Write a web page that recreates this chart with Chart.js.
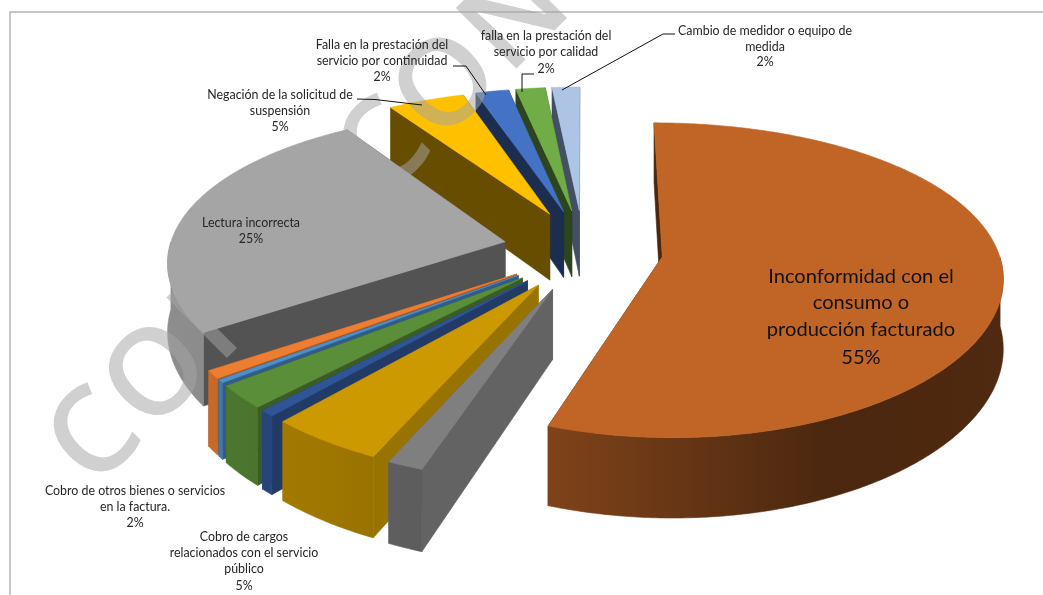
<!DOCTYPE html>
<html><head><meta charset="utf-8">
<style>html,body{margin:0;padding:0;background:#fff;overflow:hidden}canvas{display:block}</style>
<script src="https://cdn.jsdelivr.net/npm/chart.js@4"></script></head>
<body><canvas id="c" width="1043" height="595"></canvas>
<script>
const categories = [
  ['Inconformidad con el','consumo o','producción facturado'],
  [],
  ['Cobro de cargos','relacionados con el servicio','público'],
  [],
  [],
  [],
  ['Cobro de otros bienes o servicios','en la factura.'],
  ['Lectura incorrecta'],
  ['Negación de la solicitud de','suspensión'],
  ['Falla en la prestación del','servicio por continuidad'],
  ['falla en la prestación del','servicio por calidad'],
  ['Cambio de medidor o equipo de','medida']
];
const shares = [55.3, 1.5, 4.8, 0.6, 2.3, 0.3, 0.8, 25.3, 4.2, 1.8, 1.6, 1.5];
const percentText = ['55%','','5%','','','','2%','25%','5%','2%','2%','2%'];
const topColors = ['#C16527','#7F7F7F','#CC9900','#2F5597','#5B8E39','#4E8FC9','#ED7D31','#A5A5A5','#FFC000','#4472C4','#70AD47','#ADC4E4'];
const wallColors = ['#4A260E','#636363','#997300','#223A66','#3B5C25','#2F5D88','#A0541F','#535353','#664D00','#1B2E50','#2D451C','#434F62'];
const explode = 80;

const view = {cx:583, cy:250, rx:336, k:152, p:0.148, px:0.115, ey:1.13, depth:68};
const textSpots = [
  {x:861,y:[277,303,330,358],size:20.1,color:'#111'},null,
  {x:244,y:[537,553,569,586]},null,null,null,
  {x:135,y:[491,507,523]},
  {x:251,y:[223,239]},
  {x:280,y:[95,111,127]},
  {x:382,y:[45,61,77]},
  {x:546,y:[36,52,69]},
  {x:765,y:[31,47,62]}
];
const leaders = [
  [[357,99],[375,99.5],[422,105]],
  [[453,66],[466,66],[486,95]],
  [[534,74],[522,74],[522,92]],
  [[675,34],[663,34],[562,90]]
];
const shadeStops = [[0,.9],[200,.85],[280,.8],[374,.75],[549,.66],[830,.39],[1000,.41],[1043,.42]];

function rgb(h){return [1,3,5].map(i=>parseInt(h.substr(i,2),16));}
function project(phi,r,mid,e){
  const u=e*Math.sin(mid)+r*Math.sin(phi), v0=-e*Math.cos(mid), v1=-r*Math.cos(phi), v=v0+v1;
  const f=1/(1-view.p*v), fx=1/(1-view.px*v);
  return {x:view.cx+view.rx*u*fx, y:view.cy+view.k*(v0*view.ey+v1)*f, d:view.depth*f};
}
function poly(ctx,pts,fill){
  ctx.beginPath();pts.forEach((q,i)=>i?ctx.lineTo(q[0],q[1]):ctx.moveTo(q[0],q[1]));ctx.closePath();
  ctx.fillStyle=fill;ctx.strokeStyle=fill;ctx.lineWidth=.6;ctx.fill();ctx.stroke();
}
const pie3d={
  id:'pie3d',
  beforeDatasetDraw(chart,args){
    const ctx=chart.ctx, arcs=chart.getDatasetMeta(args.index).data;
    for(let i=arcs.length-1;i>=0;i--){
      const a=arcs[i], s=a.startAngle+Math.PI/2, t=a.endAngle+Math.PI/2, mid=(s+t)/2, e=a.options.offset/view.rx;
      const n=Math.max(2,Math.ceil((t-s)/0.01));
      const rim=[];for(let j=0;j<=n;j++){rim.push(project(s+(t-s)*j/n,1,mid,e));}
      const c=project(0,0,mid,e);
      const wall=a.options.borderColor;
      [rim[0],rim[n]].forEach(q=>poly(ctx,[[c.x,c.y],[q.x,q.y],[q.x,q.y+q.d],[c.x,c.y+c.d]],wall));
      const base=rgb(a.options.backgroundColor);
      const g=ctx.createLinearGradient(0,0,1043,0);
      shadeStops.forEach(st=>g.addColorStop(st[0]/1043,'rgb('+base.map(v=>Math.round(v*st[1])).join(',')+')'));
      const front=[];for(let j=0;j<=n;j++){const ph=s+(t-s)*j/n;if(ph>Math.PI/2&&ph<Math.PI*1.5)front.push(rim[j]);}
      if(front.length>1){
        const pts=front.map(q=>[q.x,q.y]).concat(front.slice().reverse().map(q=>[q.x,q.y+q.d]));
        poly(ctx,pts,g);
      }
      poly(ctx,[[c.x,c.y]].concat(rim.map(q=>[q.x,q.y])),a.options.backgroundColor);
    }
    return false;
  },
  afterDraw(chart){
    const ctx=chart.ctx;
    ctx.save();
    ctx.strokeStyle='#B4B4B4';ctx.lineWidth=1.5;ctx.strokeRect(10,12,1200,800);
    ctx.save();
    ctx.translate(92,432);ctx.rotate(-Math.PI/4);
    ctx.fillStyle='rgba(165,165,165,.52)';ctx.font='600 120px "Open Sans", sans-serif';
    ctx.letterSpacing='3px';
    ctx.textAlign='left';ctx.textBaseline='alphabetic';
    ctx.fillText('COPIA CONTROLADA',-40,43);
    ctx.restore();
    ctx.strokeStyle='#111';ctx.lineWidth=1;
    leaders.forEach(l=>{ctx.beginPath();l.forEach((q,i)=>i?ctx.lineTo(q[0],q[1]):ctx.moveTo(q[0],q[1]));ctx.stroke();});
    ctx.textAlign='center';ctx.textBaseline='middle';
    categories.forEach((lines,i)=>{
      const sp=textSpots[i];if(!sp)return;
      ctx.fillStyle=sp.color||'#262626';ctx.font=(sp.size||12.4)+'px Lato, "Open Sans", sans-serif';
      lines.concat(percentText[i]).forEach((txt,j)=>ctx.fillText(txt,sp.x,sp.y[j]));
    });
    ctx.restore();
  }
};
new Chart(document.getElementById('c'),{
  type:'pie',
  data:{labels:categories.map(l=>l.join(' ')),datasets:[{data:shares,backgroundColor:topColors,borderColor:wallColors,offset:explode,borderWidth:0}]},
  options:{responsive:false,animation:false,devicePixelRatio:1,rotation:0,
    plugins:{legend:{display:false},tooltip:{enabled:false}}},
  plugins:[pie3d]
});
</script></body></html>
